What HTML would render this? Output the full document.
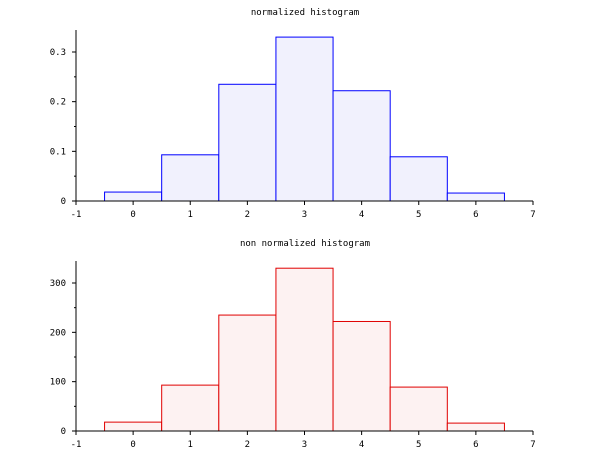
<!DOCTYPE html>
<html><head><meta charset="utf-8"><style>
body{margin:0;background:#fff;}
svg text{font-family:"DejaVu Sans Mono","Liberation Mono",monospace;font-size:9px;fill:#000;}
</style></head><body>
<svg id="c" width="610" height="460"></svg>
<script>
const categories=[0,1,2,3,4,5,6];
const normValues=[0.018,0.093,0.235,0.330,0.222,0.089,0.016];
const countValues=[18,93,235,330,222,89,16];
const xTicks=[-1,0,1,2,3,4,5,6,7];
const normTicks=[0,0.1,0.2,0.3];
const countTicks=[0,100,200,300];
const NS="http://www.w3.org/2000/svg";
const svg=document.getElementById('c');
function mk(t,a,p){const e=document.createElementNS(NS,t);for(const k in a)e.setAttribute(k,a[k]);(p||svg).appendChild(e);return e;}
const xs=v=>76+(v+1)*(533-76)/8;
function panel(name,title,vals,ticks,minor,y0,yTopVal,yTopPx,stroke,fill,fmt){
  const g=mk('g',{});
  
  
  const ys=v=>y0-(v/yTopVal)*(y0-yTopPx);
  const t=mk('text',{x:305,y:yTopPx-37,'text-anchor':'middle'},g);t.textContent=title;
  
  
  vals.forEach((v,i)=>{
    const c=categories[i];
    const r=mk('rect',{x:xs(c-0.5),y:ys(v),width:xs(c+0.5)-xs(c-0.5),height:y0-ys(v),fill:fill,stroke:stroke,'stroke-width':1},g);
    
    
  });
  const top=ys(ticks[ticks.length-1])-22;
  const ax=mk('path',{d:`M76 ${y0}H533M76 ${y0}V${top}`,stroke:'#000','stroke-width':1,fill:'none'},g);
  
  
  xTicks.forEach(v=>{
    mk('line',{x1:xs(v),x2:xs(v),y1:y0,y2:y0+4,stroke:'#000'},g);
    const l=mk('text',{x:xs(v),y:y0+16,'text-anchor':'middle'},g);l.textContent=v;
    
    
  });
  ticks.forEach(v=>{
    mk('line',{x1:72,x2:76,y1:ys(v),y2:ys(v),stroke:'#000'},g);
    const l=mk('text',{x:66,y:ys(v)+3,'text-anchor':'end'},g);l.textContent=fmt(v);
    
    
  });
  for(let v=minor;v<ticks[ticks.length-1]+minor*1.5;v+=minor*2){
    if(ys(v)>top) mk('line',{x1:74,x2:76,y1:ys(v),y2:ys(v),stroke:'#000'},g);
  }
}
panel('normalized-histogram','normalized histogram',normValues,normTicks,0.05,201,0.3,52,'#0000ff','#f1f1fd',v=>v===0?'0':v.toFixed(1));
panel('count-histogram','non normalized histogram',countValues,countTicks,50,431,300,283,'#e00000','#fdf2f2',v=>String(v));
</script>
</body></html>
